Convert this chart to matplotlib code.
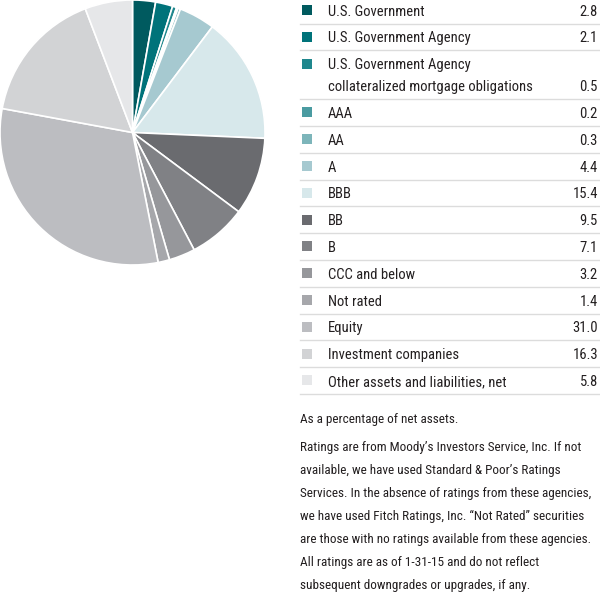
import matplotlib
matplotlib.use("Agg")
import matplotlib.pyplot as plt
from matplotlib import font_manager
from matplotlib.patches import Rectangle

labels = [
    "U.S. Government",
    "U.S. Government Agency",
    "U.S. Government Agency\ncollateralized mortgage obligations",
    "AAA",
    "AA",
    "A",
    "BBB",
    "BB",
    "B",
    "CCC and below",
    "Not rated",
    "Equity",
    "Investment companies",
    "Other assets and liabilities, net",
]
values = [2.8, 2.1, 0.5, 0.2, 0.3, 4.4, 15.4, 9.5, 7.1, 3.2, 1.4, 31.0, 16.3, 5.8]
colors = [
    "#005a5f", "#00737a", "#1f878d", "#4a9ba1", "#7db5ba", "#a6c9d0", "#d7e8eb",
    "#6a6b6f", "#808185", "#96979b", "#a6a7ab", "#bcbdc1", "#d2d3d5", "#e6e7e9",
]
notes = [
    "As a percentage of net assets.",
    "Ratings are from Moody\u2019s Investors Service, Inc. If not",
    "available, we have used Standard & Poor\u2019s Ratings",
    "Services. In the absence of ratings from these agencies,",
    "we have used Fitch Ratings, Inc. \u201cNot Rated\u201d securities",
    "are those with no ratings available from these agencies.",
    "All ratings are as of 1-31-15 and do not reflect",
    "subsequent downgrades or upgrades, if any.",
]

# pick a narrow face if one is around, the reference uses a condensed sans
names = {f.name for f in font_manager.fontManager.ttflist}
candidates = ['Liberation Sans Narrow', 'Roboto Condensed', 'Open Sans Condensed',
              'PT Sans Narrow', 'Archivo Narrow', 'Fira Sans Condensed',
              'Encode Sans Condensed', 'Asap Condensed', 'Lato']
family = next((c for c in candidates if c in names), 'DejaVu Sans')
plt.rcParams['font.family'] = [family, 'DejaVu Sans']

W, H = 600, 605
fig = plt.figure(figsize=(W / 100, H / 100), dpi=100)
renderer = fig.canvas.get_renderer()


def fit_size(s, target_px, start=10.0):
    t = fig.text(0, 0, s, fontsize=start)
    w = t.get_window_extent(renderer).width
    t.remove()
    return start * target_px / w


fs_leg = min(fit_size("collateralized mortgage obligations", 210), 10.5)
fs_note = min(fit_size("Services. In the absence of ratings from these agencies,", 290), 10.0)

# overlay axes in pixel coordinates for the legend table
ax = fig.add_axes([0, 0, 1, 1])
ax.set_xlim(0, W)
ax.set_ylim(H, 0)
ax.axis('off')

# pie
pax = fig.add_axes([0, 1 - 265 / H, 265 / W, 265 / H])
pax.pie(values, colors=colors, startangle=90, counterclock=False, radius=1,
        wedgeprops=dict(edgecolor='white', linewidth=1.2))
pax.set_xlim(-1.0, 1.0)
pax.set_ylim(-1.0, 1.0)
pax.set_aspect('equal')

txt_color = "#231f20"
step = 26.8
line_h = 22
top = -3.2
for lab, val, col in zip(labels, values, colors):
    lines = lab.split("\n")
    first = top + 13.2
    ax.add_patch(Rectangle((302, first - 5), 10, 10, color=col, lw=0))
    for k, ln in enumerate(lines):
        ax.text(328, first + k * line_h, ln, fontsize=fs_leg, color=txt_color,
                va='center_baseline', ha='left')
    last = first + (len(lines) - 1) * line_h
    ax.text(598, last, f"{val:.1f}", fontsize=fs_leg, color=txt_color,
            va='center_baseline', ha='right')
    top = top + step + (len(lines) - 1) * line_h
    ax.plot([300, 600], [top, top], color="#dcdcdc", lw=1)

ax.text(300, 418, notes[0], fontsize=fs_note, color=txt_color, va='center_baseline', ha='left')
for k, ln in enumerate(notes[1:]):
    ax.text(300, 446 + k * 23, ln, fontsize=fs_note, color=txt_color,
            va='center_baseline', ha='left')

fig.savefig("out.png", dpi=100)
